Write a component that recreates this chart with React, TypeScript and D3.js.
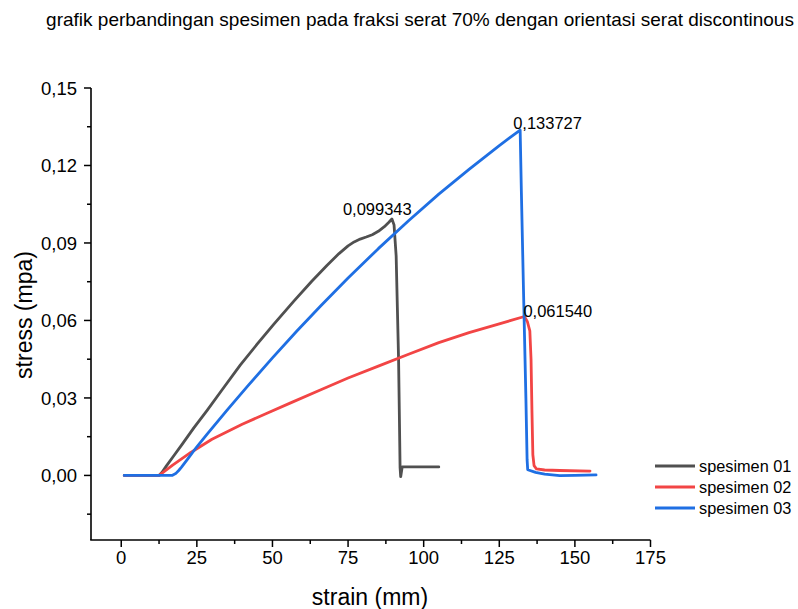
import React from "react";
import * as d3 from "d3";

const W = 798;
const H = 609;

const xTicks = [0, 25, 50, 75, 100, 125, 150, 175];
const xMinor = [12.5, 37.5, 62.5, 87.5, 112.5, 137.5, 162.5];
const yTicks = [0, 0.03, 0.06, 0.09, 0.12, 0.15];
const yMinor = [-0.015, 0.015, 0.045, 0.075, 0.105, 0.135];

const spes01: [number, number][] = [
  [1, 0], [12.5, 0], [13.5, 0.0012], [15, 0.0038], [17.5, 0.0078], [20, 0.0118], [24, 0.0184],
  [28.4, 0.0252], [33, 0.0326], [39.4, 0.0428], [45, 0.0509], [50.4, 0.0585], [57, 0.0674],
  [63, 0.0752], [68, 0.0813], [72, 0.0859], [75, 0.0889], [77, 0.0904], [79, 0.0915],
  [81, 0.0923], [83, 0.0932], [85, 0.0945], [87, 0.0963], [88.5, 0.098], [89.5, 0.0993],
  [90.2, 0.097], [90.9, 0.085], [91.3, 0.065], [91.7, 0.045], [92.0, 0.02], [92.2, 0.003],
  [92.4, -0.0005], [92.9, 0.0033], [105, 0.0033],
];

const spes02: [number, number][] = [
  [1, 0], [12.5, 0], [13.5, 0.0009], [17, 0.004], [23, 0.0089], [30, 0.014], [40, 0.0198],
  [48, 0.024], [56, 0.0281], [66, 0.0332], [75, 0.0377], [85, 0.0423], [95, 0.0469],
  [105, 0.0514], [115, 0.0553], [125, 0.0587], [133.3, 0.06154], [134.3, 0.0595], [135.1, 0.056],
  [135.5, 0.045], [135.8, 0.025], [136.1, 0.008], [136.5, 0.0038], [137.3, 0.0025], [140, 0.0021],
  [145, 0.0019], [155, 0.0017],
];

const spes03: [number, number][] = [
  [1, 0], [16.8, 0], [18, 0.0007], [19, 0.0019], [20, 0.0033], [22, 0.0064], [25, 0.0111],
  [28.4, 0.016], [35, 0.0253], [42, 0.0349], [50, 0.0455], [58, 0.0558], [66, 0.0657],
  [75, 0.0764], [85, 0.0878], [95, 0.0986], [105, 0.1089], [115, 0.1185], [125, 0.1277],
  [131.9, 0.133727], [132.3, 0.11], [133, 0.072], [133.8, 0.03], [134.2, 0.006], [134.4, 0.0022],
  [137, 0.0012], [140, 0.0005], [145, -0.0001], [150, 0], [157, 0.0002],
];

const seriesNames = ["spesimen 01", "spesimen 02", "spesimen 03"];
const seriesData = [spes01, spes02, spes03];
const colors = ["#505050", "#f24545", "#1f6fe3"];

const peakLabels = ["0,099343", "0,061540", "0,133727"];
const peakPoints: [number, number][] = [[89.5, 0.0993], [133.3, 0.06154], [131.9, 0.133727]];
const labelOffsets: [number, number][] = [[-49, -4], [-1, 1], [-7, -1]];

const FONT = "'Liberation Sans', Arial, Helvetica, sans-serif";

export default function App() {
  const x = d3.scaleLinear().domain([-10, 175]).range([91, 650.5]);
  const y = d3.scaleLinear().domain([-0.025, 0.15]).range([540, 88]);
  const line = d3
    .line<[number, number]>()
    .x((d) => x(d[0]))
    .y((d) => y(d[1]))
    .curve(d3.curveLinear);

  const fmt = (v: number) => v.toFixed(2).replace(".", ",");

  return (
    <svg width={W} height={H} style={{ display: "block", position: "absolute", left: 0, top: 0 }} fontFamily={FONT}>
      <rect width={W} height={H} fill="#fff" />
      <text x={420} y={26} textAnchor="middle" fontSize={19} fill="#000">
        grafik perbandingan spesimen pada fraksi serat 70% dengan orientasi serat discontinous
      </text>

      {seriesData.map((d, i) => (
        <path
          key={i}
          d={line(d) || ""}
          fill="none"
          stroke={colors[i]}
          strokeWidth={2.8}
          strokeLinejoin="round"
          strokeLinecap="round"
        />
      ))}

      {peakLabels.map((t, i) => (
        <text
          key={t}
          x={x(peakPoints[i][0]) + labelOffsets[i][0]}
          y={y(peakPoints[i][1]) + labelOffsets[i][1]}
          fontSize={16.5}
          fill="#000"
        >
          {t}
        </text>
      ))}

      {/* axes */}
      <line x1={91} x2={91} y1={y(0.15)} y2={y(-0.025)} stroke="#000" strokeWidth={1.6} />
      <line x1={90.2} x2={x(175)} y1={540} y2={540} stroke="#000" strokeWidth={1.6} />
      {yTicks.map((t) => (
        <g key={t}>
          <line x1={84} x2={91} y1={y(t)} y2={y(t)} stroke="#000" strokeWidth={1.5} />
          <text x={77} y={y(t)} dy="0.36em" textAnchor="end" fontSize={18.5} fill="#000">
            {fmt(t)}
          </text>
        </g>
      ))}
      {yMinor.map((t) => (
        <line key={t} x1={87} x2={91} y1={y(t)} y2={y(t)} stroke="#000" strokeWidth={1.5} />
      ))}
      {xTicks.map((t) => (
        <g key={t}>
          <line x1={x(t)} x2={x(t)} y1={540} y2={547} stroke="#000" strokeWidth={1.5} />
          <text x={x(t)} y={564} textAnchor="middle" fontSize={18.5} fill="#000">
            {t}
          </text>
        </g>
      ))}
      {xMinor.map((t) => (
        <line key={t} x1={x(t)} x2={x(t)} y1={540} y2={544} stroke="#000" strokeWidth={1.5} />
      ))}

      <text x={370} y={605} textAnchor="middle" fontSize={23} fill="#000">
        strain (mm)
      </text>
      <text transform="translate(32,315) rotate(-90)" textAnchor="middle" fontSize={23} fill="#000">
        stress (mpa)
      </text>

      {seriesNames.map((n, i) => (
        <g key={n}>
          <line x1={655} x2={695} y1={466 + i * 21} y2={466 + i * 21} stroke={colors[i]} strokeWidth={2.8} />
          <text x={699} y={466 + i * 21} dy="0.36em" fontSize={16.3} fill="#000">
            {n}
          </text>
        </g>
      ))}
    </svg>
  );
}
